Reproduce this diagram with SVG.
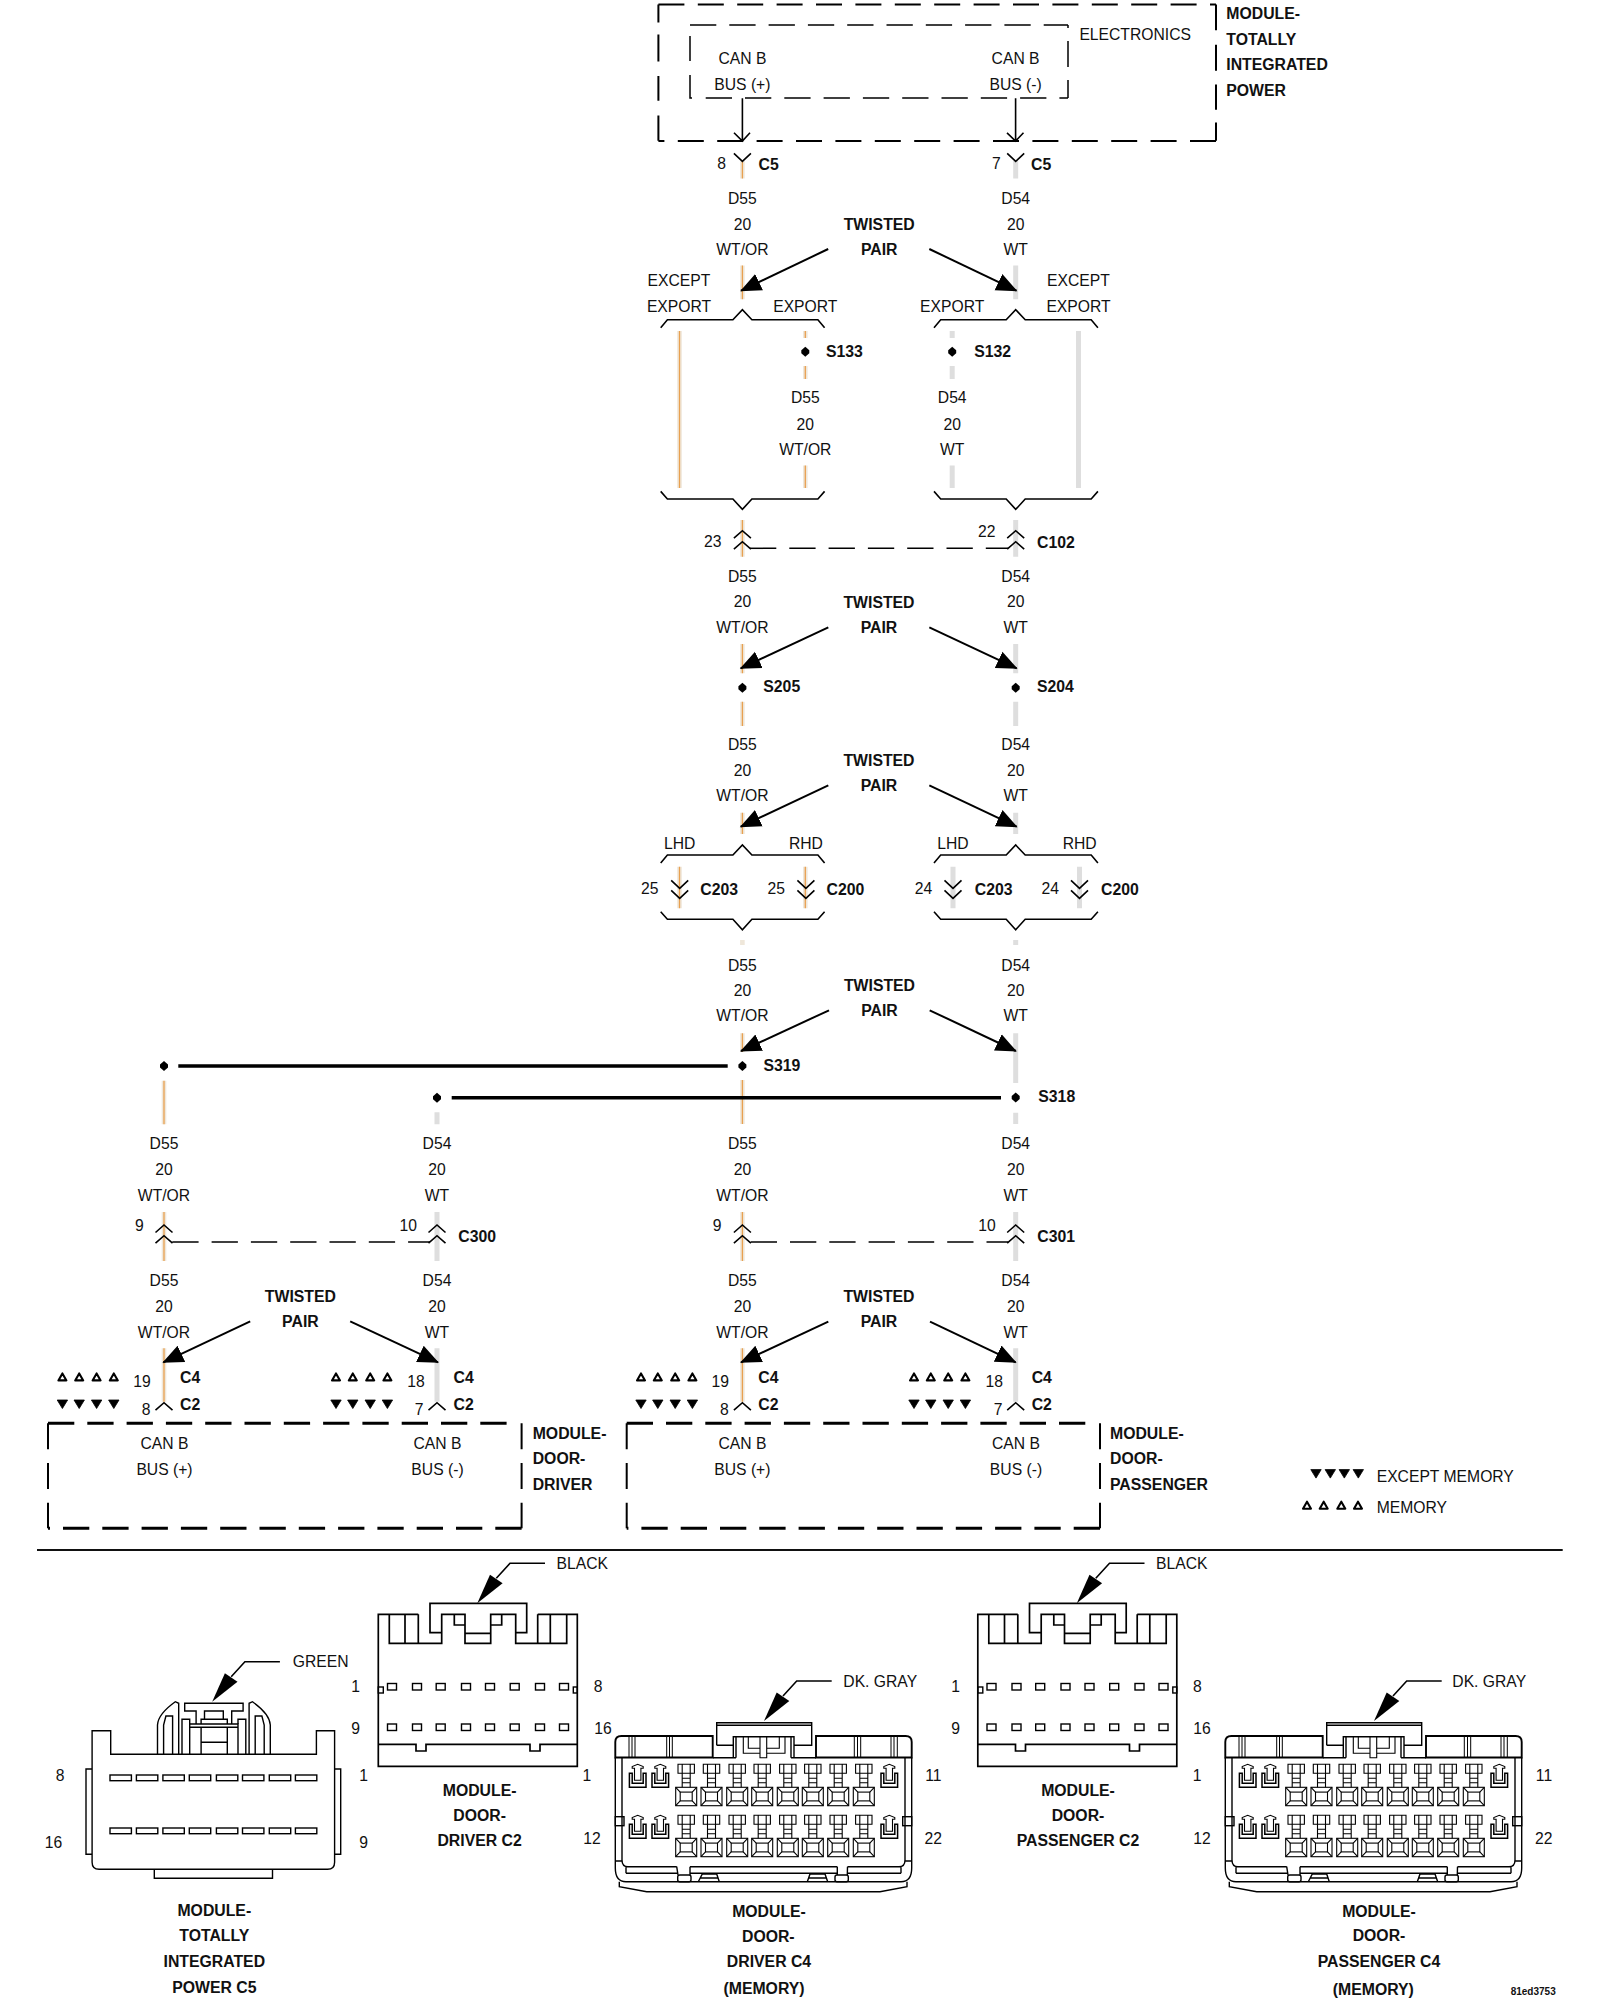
<svg xmlns="http://www.w3.org/2000/svg" width="1600" height="2000" viewBox="0 0 1600 2000">
<style>
text{font-family:"Liberation Sans",Arial,sans-serif;font-size:15.7px;fill:#111;transform:translateY(-1px)}
.b{font-weight:bold;font-size:15.8px}
.m{text-anchor:middle}
.ln{fill:none;stroke:#000;stroke-width:1.6}
.cn{fill:none;stroke:#000;stroke-width:1.4}
.pn{fill:none;stroke:#000;stroke-width:1.1}
.d2{fill:none;stroke:#000;stroke-width:2;stroke-dasharray:26 13.4}
.d1{fill:none;stroke:#000;stroke-width:1.5;stroke-dasharray:26.3 13}
.d3{fill:none;stroke:#000;stroke-width:3;stroke-dasharray:26.3 13}
.dv{fill:none;stroke:#000;stroke-width:2;stroke-dasharray:26 13.7}
.pale{fill:none;stroke:#efe7da;stroke-width:4.6}
.or{fill:none;stroke:#e8a050;stroke-width:1.3}
.wt{fill:none;stroke:#dedede;stroke-width:5}
.arr{fill:none;stroke:#000;stroke-width:2;marker-end:url(#head)}
.bar{fill:none;stroke:#000;stroke-width:3.5}
</style>
<defs>
<marker id="head" markerUnits="userSpaceOnUse" markerWidth="22" markerHeight="20" viewBox="0 0 22 20" refX="20" refY="10" orient="auto"><path d="M0,1 L21,10 L0,19 Z" fill="#000"/></marker>
<path id="dia" d="M0,-5 L4,-1.5 V1.5 L0,5 L-4,1.5 V-1.5 Z" fill="#000"/>
<path id="tw" d="M0,-3.6 L4,3.4 H-4 Z" fill="#fff" stroke="#000" stroke-width="2.1" stroke-linejoin="round"/>
<path id="tb" d="M-5.2,-4 H5.2 L0,4.5 Z" fill="#000" stroke="#000" stroke-width=".8" stroke-linejoin="round"/>
<path id="up" d="M-8.5,7.5 L0,0 L8.5,7.5" class="ln"/>
<path id="down" d="M-8.5,-8 L0,0 L8.5,-8" class="ln"/>
<path id="bt" d="M-81.7,18 L-75,10 H-9.5 L0,0 L9.5,10 H75.5 L82.2,18" class="ln"/>
<path id="bb" d="M-81.7,0 L-75,7.6 H-9.5 L0,18 L9.5,7.6 H75.5 L82.2,0" class="ln"/>
<g id="lead"><path d="M0,0 L12.7,-28.5 L25.3,-20 Z" fill="#000"/><path d="M19,-25 L32.7,-40 H67.7" class="ln"/></g>
<g id="tri4w"><use href="#tw" x="0"/><use href="#tw" x="16.8"/><use href="#tw" x="34.2"/><use href="#tw" x="51.4"/></g>
<g id="tri4b"><use href="#tb" x="0"/><use href="#tb" x="16.8"/><use href="#tb" x="34.2"/><use href="#tb" x="51.4"/></g>
<g id="pin" class="pn"><path d="M-8.2,0 H8.2 V9 H-8.2 Z M-4,0 V23 M4,0 V23 M-4,14 H4 M-4,18.5 H4"/><rect x="-10.5" y="23" width="21" height="18.4"/><rect x="-6" y="27.8" width="12" height="8.8"/><path d="M-10.5,23 L-6,27.8 M10.5,23 L6,27.8 M-10.5,41.4 L-6,36.6 M10.5,41.4 L6,36.6"/></g>
<g id="clip" class="pn"><path d="M-3.2,9 V4 H-5.5 V2.2 L0,0 L5.5,2.2 V4 H3.2 V9 M-3.2,9 V16 H3.2 V9"/><path d="M-8.3,9 V23 H8.3 V9 H5.5 V19 H-5.5 V9 Z" stroke-width="1.5"/></g>
<g id="pinrow"><use href="#clip" x="637.7"/><use href="#clip" x="660.3"/><use href="#pin" x="686.2"/><use href="#pin" x="711.5"/><use href="#pin" x="737.2"/><use href="#pin" x="762.2"/><use href="#pin" x="787.8"/><use href="#pin" x="812.8"/><use href="#pin" x="838.2"/><use href="#pin" x="863.8"/><use href="#clip" x="889.3"/></g>
<g id="c4shape" class="cn">
<path d="M615.3,1757.5 V1742 Q615.3,1736 621.3,1736 H712.7 V1757.5 Z M816,1757.5 V1736 H905.7 Q911.7,1736 911.7,1742 V1757.5 Z" stroke-width="1.9"/>
<path stroke-width="1" d="M629,1736V1757 M632,1736V1757 M635,1736V1757 M666.7,1736V1757 M669.5,1736V1757 M672.3,1736V1757 M854.3,1736V1757 M857.5,1736V1757 M860.7,1736V1757 M891,1736V1757 M894,1736V1757 M897.3,1736V1757"/>
<path d="M716.7,1745.3 V1722.7 H811.7 V1745.3 H794 M716.7,1725.2 H811.7 M716.7,1745.3 H733.3 M733.3,1757.7 V1736.7 H794 V1757.7 M736,1757.7 V1737 M791,1757.7 V1737 M713,1757.7 H736 M791,1757.7 H816"/>
<path stroke-width="1.1" d="M743.3,1736.7 V1753.3 H760 V1757.7 H766.7 V1753.3 H785 V1736.7 M748.3,1736.7 V1748.3 H760 V1736.7 M766.7,1736.7 V1748.3 H779.3 V1736.7 M760,1748.3 V1753.3 M766.7,1748.3 V1753.3"/>
<path d="M615.3,1757.5 V1868 Q615.3,1881.7 626,1881.7 H901 Q911.7,1881.7 911.7,1868 V1757.5 M622,1757.5 V1860 Q622,1866.7 628,1866.7 H676.7 M905,1757.5 V1860 Q905,1866.7 899,1866.7 H847.5 M615.3,1861 H622 M905,1861 H911.7 M626,1866.7 V1873.3 M901,1866.7 V1873.3 M626,1873.3 H678 M690,1873.3 H837.3 M847.3,1873.3 H901 M690,1866.7 H837.3 M690,1866.7 V1875 M837.3,1866.7 V1875 M676.7,1866.7 L678,1875 M847.5,1866.7 L847.3,1875"/>
<rect x="677.7" y="1875" width="13.3" height="6.7" rx="2"/><rect x="835" y="1875" width="13.3" height="6.7" rx="2"/>
<path d="M698.3,1881.7 L702.3,1874 H716.7 L719.3,1881.7 M700.5,1878 H717.8 M807.3,1881.7 L810,1874 H825 L827.7,1881.7 M808.6,1878 H826.4 M619.3,1881.7 V1886.7 L646.7,1891.7 H880 L907,1886.7 V1881.7"/>
<rect x="615.3" y="1816.7" width="8.7" height="9"/><rect x="902.7" y="1816.7" width="9" height="9"/>
<use href="#pinrow" y="1764.3"/><use href="#pinrow" y="1815.3"/>
</g>
<g id="c2shape" class="cn">
<path d="M418.3,1614.3 H378.3 V1766.3 H577.3 V1614.3 H537.7" stroke-width="1.7"/>
<path d="M389.3,1614.3 V1643.3 H441.7 V1614.3 H465 V1643.3 H490.7 V1614.3 H515.7 V1643.3 H566.7 V1614.3 M405,1614.3 V1643.3 M418.3,1614.3 V1643.3 M537.7,1614.3 V1643.3 M550.3,1614.3 V1643.3 M454.3,1614.3 V1625 H465 M490.7,1625 H501.7 V1614.3 M465,1633.3 H490.7 M441.7,1632.7 H430 V1603.3 H526.7 V1632.7 H515.7 M378.3,1744.3 H416 V1751 H426 V1744.3 H530 V1751 H540 V1744.3 H577.3" stroke-width="1.7"/>
<rect x="387.5" y="1683.5" width="9" height="6.5"/><rect x="412.5" y="1683.5" width="9" height="6.5"/><rect x="436.2" y="1683.5" width="9" height="6.5"/><rect x="461.5" y="1683.5" width="9" height="6.5"/><rect x="485.5" y="1683.5" width="9" height="6.5"/><rect x="510.2" y="1683.5" width="9" height="6.5"/><rect x="535.5" y="1683.5" width="9" height="6.5"/><rect x="559.5" y="1683.5" width="9" height="6.5"/>
<rect x="387.5" y="1724" width="9" height="6.5"/><rect x="412.5" y="1724" width="9" height="6.5"/><rect x="436.2" y="1724" width="9" height="6.5"/><rect x="461.5" y="1724" width="9" height="6.5"/><rect x="485.5" y="1724" width="9" height="6.5"/><rect x="510.2" y="1724" width="9" height="6.5"/><rect x="535.5" y="1724" width="9" height="6.5"/><rect x="559.5" y="1724" width="9" height="6.5"/>
<rect x="378.3" y="1687" width="5" height="6"/><rect x="573.3" y="1687" width="4" height="6"/>
</g>
</defs>
<rect width="1600" height="2000" fill="#fff"/>

<g id="connectors">
<path class="pale" d="M742.4,161V178.6M742.4,265.5V299.3M742.4,520V556.7M742.4,644V673.3M742.4,701.7V726M742.4,812.7V834M742.4,940V945M742.4,1033.3V1052M742.4,1080V1124M742.4,1212V1261M742.4,1348.3V1401.7M679.5,331V488M679.5,866.7V908.3M805.3,331V338M805.3,366V379M805.3,465.5V488M805.3,866.7V908.3M164,1080.7V1124.3M164,1212V1261M164,1348.3V1401.7"/>
<path class="or" d="M742.4,161V178.6M742.4,265.5V299.3M742.4,520V556.7M742.4,644V673.3M742.4,701.7V726M742.4,812.7V834M742.4,1033.3V1052M742.4,1080V1124M742.4,1212V1261M742.4,1348.3V1401.7M679.5,331V488M679.5,866.7V908.3M805.3,331V338M805.3,366V379M805.3,465.5V488M805.3,866.7V908.3M164,1080.7V1124.3M164,1212V1261M164,1348.3V1401.7"/>
<path class="wt" d="M1015.7,161V178.6M1015.7,265.5V299.3M1015.7,520V556.7M1015.7,644V673.3M1015.7,701.7V726M1015.7,812.7V834M1015.7,940V945M1015.7,1033.3V1083M1015.7,1112.7V1124M1015.7,1212V1261M1015.7,1348.3V1401.7M952.2,331V338M952.2,366V379M952.2,465.5V488M953,866.7V908.3M1078.5,331V488M1079.5,866.7V908.3M437,1112.3V1124.3M437,1212V1261M437,1348.3V1401.7"/>
<path class="bar" d="M178.3,1066H727.7M451.7,1097.7H1001"/>
<path class="arr" d="M828.2,249L741,290.7"/><path class="arr" d="M929.3,249L1016.5,290.7"/>
<path class="arr" d="M828.3,627.3L740.7,668.3"/><path class="arr" d="M929.3,627.3L1016.7,668.3"/>
<path class="arr" d="M828.3,785.3L740.7,826.7"/><path class="arr" d="M929.3,785.3L1016.7,826.7"/>
<path class="arr" d="M829,1010.3L741,1051"/><path class="arr" d="M929.7,1010.3L1015.9,1051"/>
<path class="arr" d="M828.3,1321.7L741,1362.3"/><path class="arr" d="M930,1321.7L1015.7,1362.3"/>
<path class="arr" d="M250.2,1321.3L163.3,1362.3"/><path class="arr" d="M350.2,1321.3L438,1362.3"/>
<use href="#bt" x="742.4" y="309.7"/><use href="#bt" x="1015.7" y="309.7"/>
<use href="#bb" x="742.4" y="491.4"/><use href="#bb" x="1015.7" y="491.4"/>
<use href="#bt" x="742.4" y="845"/><use href="#bt" x="1015.7" y="845"/>
<use href="#bb" x="742.4" y="911.7"/><use href="#bb" x="1015.7" y="911.7"/>
<path class="d1" d="M750,548.3H1008"/><path class="d1" d="M172.3,1242H430"/><path class="d1" d="M750.7,1242H1008"/>
</g>

<g id="module-tipm">
<path class="d2" d="M658.4,4.5H1216"/><path class="d2" d="M1216,141H658.4"/>
<path fill="none" stroke="#000" stroke-width="2" d="M658.4,4.5V22.4M658.4,34.5V61.4M658.4,75.9V100.7M658.4,115.5V140.7M1216,4.5V30.3M1216,44.8V70.7M1216,84.5V109.7M1216,122.4V140.7"/>
<path class="d1" d="M690,25H1068"/><path class="d1" d="M705.7,98H1068"/>
<path fill="none" stroke="#000" stroke-width="1.5" d="M690,36V61M690,75V98H692M1068,25V28M1068,41V67M1068,80V98"/>
<path class="ln" d="M742.4,98.3V141M734,132.8L742.4,141L750,132.8M1015.6,98.3V141M1007,132.8L1015.6,141L1023.5,132.8"/>
<text x="1079.4" y="41.4">ELECTRONICS</text>
<text class="m" x="742.4" y="65">CAN B</text><text class="m" x="742.4" y="91">BUS (+)</text>
<text class="m" x="1015.6" y="65">CAN B</text><text class="m" x="1015.6" y="91">BUS (-)</text>
<text class="b" x="1226.3" y="20">MODULE-</text><text class="b" x="1226.3" y="45.9">TOTALLY</text><text class="b" x="1226.3" y="70.7">INTEGRATED</text><text class="b" x="1226.3" y="97.2">POWER</text>
</g>

<g id="connector-c5">
<use href="#down" x="742.4" y="161.4"/><use href="#down" x="1015.7" y="161.4"/>
<text class="m" x="721.7" y="170">8</text><text class="b" x="758.5" y="170.7">C5</text>
<text class="m" x="996.3" y="170">7</text><text class="b" x="1031" y="170.7">C5</text>
</g>

<g id="twisted-labels">
<text class="b m" x="879.2" y="231">TWISTED</text><text class="b m" x="879.2" y="256.2">PAIR</text>
<text class="b m" x="879" y="609">TWISTED</text><text class="b m" x="879" y="634">PAIR</text>
<text class="b m" x="879" y="766.7">TWISTED</text><text class="b m" x="879" y="791.7">PAIR</text>
<text class="b m" x="879.5" y="992">TWISTED</text><text class="b m" x="879.5" y="1016.7">PAIR</text>
<text class="b m" x="879" y="1303.3">TWISTED</text><text class="b m" x="879" y="1328.3">PAIR</text>
<text class="b m" x="300.4" y="1302.7">TWISTED</text><text class="b m" x="300.4" y="1327.7">PAIR</text>
</g>

<g id="wire-labels">
<text class="m" x="742.4" y="204.5">D55</text><text class="m" x="742.4" y="231">20</text><text class="m" x="742.4" y="256">WT/OR</text>
<text class="m" x="1015.7" y="204.5">D54</text><text class="m" x="1015.7" y="231">20</text><text class="m" x="1015.7" y="256">WT</text>
<text class="m" x="805.3" y="404">D55</text><text class="m" x="805.3" y="431">20</text><text class="m" x="805.3" y="456">WT/OR</text>
<text class="m" x="952.2" y="404">D54</text><text class="m" x="952.2" y="431">20</text><text class="m" x="952.2" y="456">WT</text>
<text class="m" x="742.4" y="582.7">D55</text><text class="m" x="742.4" y="608">20</text><text class="m" x="742.4" y="634">WT/OR</text>
<text class="m" x="1015.7" y="582.7">D54</text><text class="m" x="1015.7" y="608">20</text><text class="m" x="1015.7" y="634">WT</text>
<text class="m" x="742.4" y="750.7">D55</text><text class="m" x="742.4" y="776.7">20</text><text class="m" x="742.4" y="801.7">WT/OR</text>
<text class="m" x="1015.7" y="750.7">D54</text><text class="m" x="1015.7" y="776.7">20</text><text class="m" x="1015.7" y="801.7">WT</text>
<text class="m" x="742.4" y="971.7">D55</text><text class="m" x="742.4" y="996.7">20</text><text class="m" x="742.4" y="1022.3">WT/OR</text>
<text class="m" x="1015.7" y="971.7">D54</text><text class="m" x="1015.7" y="996.7">20</text><text class="m" x="1015.7" y="1022.3">WT</text>
<text class="m" x="164" y="1150">D55</text><text class="m" x="164" y="1176">20</text><text class="m" x="164" y="1202">WT/OR</text>
<text class="m" x="437" y="1150">D54</text><text class="m" x="437" y="1176">20</text><text class="m" x="437" y="1202">WT</text>
<text class="m" x="742.4" y="1150">D55</text><text class="m" x="742.4" y="1176">20</text><text class="m" x="742.4" y="1202">WT/OR</text>
<text class="m" x="1015.7" y="1150">D54</text><text class="m" x="1015.7" y="1176">20</text><text class="m" x="1015.7" y="1202">WT</text>
<text class="m" x="164" y="1286.7">D55</text><text class="m" x="164" y="1312.7">20</text><text class="m" x="164" y="1338.7">WT/OR</text>
<text class="m" x="437" y="1286.7">D54</text><text class="m" x="437" y="1312.7">20</text><text class="m" x="437" y="1338.7">WT</text>
<text class="m" x="742.4" y="1286.7">D55</text><text class="m" x="742.4" y="1312.7">20</text><text class="m" x="742.4" y="1338.7">WT/OR</text>
<text class="m" x="1015.7" y="1286.7">D54</text><text class="m" x="1015.7" y="1312.7">20</text><text class="m" x="1015.7" y="1338.7">WT</text>
</g>

<g id="export-options">
<text class="m" x="679" y="287.2">EXCEPT</text><text class="m" x="679" y="313">EXPORT</text>
<text class="m" x="805.3" y="313">EXPORT</text><text class="m" x="952.2" y="313">EXPORT</text>
<text class="m" x="1078.5" y="287.2">EXCEPT</text><text class="m" x="1078.5" y="313">EXPORT</text>
</g>

<g id="splices">
<use href="#dia" x="805.3" y="351.7"/><text class="b" x="826" y="357.6">S133</text>
<use href="#dia" x="952.2" y="351.7"/><text class="b" x="974.2" y="357.6">S132</text>
<use href="#dia" x="742.4" y="687.7"/><text class="b" x="763.3" y="693.3">S205</text>
<use href="#dia" x="1015.7" y="687.7"/><text class="b" x="1037" y="693.3">S204</text>
<use href="#dia" x="742.4" y="1066"/><text class="b" x="763.4" y="1071.7">S319</text>
<use href="#dia" x="1015.7" y="1097.5"/><text class="b" x="1038.3" y="1103.3">S318</text>
<use href="#dia" x="164" y="1066"/><use href="#dia" x="437" y="1097.7"/>
</g>

<g id="connector-c102">
<use href="#up" x="742.4" y="530.7"/><use href="#up" x="742.4" y="541.7"/><use href="#up" x="1015.7" y="530.7"/><use href="#up" x="1015.7" y="541.7"/>
<text class="m" x="712.7" y="548">23</text><text class="m" x="986.7" y="537.7">22</text><text class="b" x="1037" y="549.3">C102</text>
</g>

<g id="connector-c203-c200">
<use href="#down" x="679.7" y="888.3"/><use href="#down" x="679.7" y="898.3"/><use href="#down" x="805.9" y="888.3"/><use href="#down" x="805.9" y="898.3"/>
<use href="#down" x="953" y="888.3"/><use href="#down" x="953" y="898.3"/><use href="#down" x="1079.5" y="888.3"/><use href="#down" x="1079.5" y="898.3"/>
<text class="m" x="679.7" y="850">LHD</text><text class="m" x="805.9" y="850">RHD</text><text class="m" x="953" y="850">LHD</text><text class="m" x="1079.7" y="850">RHD</text>
<text class="m" x="649.7" y="895">25</text><text class="b" x="700.3" y="896">C203</text>
<text class="m" x="776.2" y="895">25</text><text class="b" x="826.6" y="896">C200</text>
<text class="m" x="923.4" y="895">24</text><text class="b" x="974.8" y="896">C203</text>
<text class="m" x="1050.3" y="895">24</text><text class="b" x="1101" y="896">C200</text>
</g>

<g id="connector-c300">
<use href="#up" x="164" y="1225"/><use href="#up" x="164" y="1235.7"/><use href="#up" x="437" y="1225"/><use href="#up" x="437" y="1235.7"/>
<text class="m" x="139.3" y="1231.7">9</text><text class="m" x="408.3" y="1231.7">10</text><text class="b" x="458.3" y="1242.7">C300</text>
</g>
<g id="connector-c301">
<use href="#up" x="742.4" y="1225"/><use href="#up" x="742.4" y="1235.7"/><use href="#up" x="1015.7" y="1225"/><use href="#up" x="1015.7" y="1235.7"/>
<text class="m" x="717" y="1231.7">9</text><text class="m" x="987" y="1231.7">10</text><text class="b" x="1037.3" y="1242.7">C301</text>
</g>

<g id="module-door-driver">
<use href="#tri4w" x="62.4" y="1377"/><use href="#tri4w" x="336" y="1377"/><use href="#tri4b" x="62.4" y="1404"/><use href="#tri4b" x="336" y="1404"/>
<use href="#up" x="164" y="1402.7"/><use href="#up" x="437" y="1402.7"/>
<text class="m" x="142" y="1388.3">19</text><text class="b" x="180" y="1384">C4</text><text class="m" x="146" y="1415.7">8</text><text class="b" x="180" y="1411">C2</text>
<text class="m" x="416" y="1388.3">18</text><text class="b" x="453.5" y="1384">C4</text><text class="m" x="419" y="1415.7">7</text><text class="b" x="453.5" y="1411">C2</text>
<path class="d3" d="M48,1423.3H508"/><path class="d3" d="M521.6,1528.3H48"/><path class="dv" d="M48,1423.3V1528.3"/><path class="dv" d="M521.6,1423.3V1528.3"/>
<text class="m" x="164.5" y="1450">CAN B</text><text class="m" x="164.5" y="1476">BUS (+)</text>
<text class="m" x="437.5" y="1450">CAN B</text><text class="m" x="437.5" y="1476">BUS (-)</text>
<text class="b" x="532.7" y="1440">MODULE-</text><text class="b" x="532.7" y="1465">DOOR-</text><text class="b" x="532.7" y="1490.7">DRIVER</text>
</g>

<g id="module-door-passenger">
<use href="#tri4w" x="641" y="1377"/><use href="#tri4w" x="914" y="1377"/><use href="#tri4b" x="641" y="1404"/><use href="#tri4b" x="914" y="1404"/>
<use href="#up" x="742.4" y="1402.7"/><use href="#up" x="1015.7" y="1402.7"/>
<text class="m" x="720.3" y="1388.3">19</text><text class="b" x="758.3" y="1384">C4</text><text class="m" x="724.3" y="1415.7">8</text><text class="b" x="758.3" y="1411">C2</text>
<text class="m" x="994.3" y="1388.3">18</text><text class="b" x="1031.7" y="1384">C4</text><text class="m" x="998" y="1415.7">7</text><text class="b" x="1031.7" y="1411">C2</text>
<path class="d3" d="M626.7,1423.3H1087"/><path class="d3" d="M1100,1528.3H626.7"/><path class="dv" d="M626.7,1423.3V1528.3"/><path class="dv" d="M1100,1423.3V1528.3"/>
<text class="m" x="742.4" y="1450">CAN B</text><text class="m" x="742.4" y="1476">BUS (+)</text>
<text class="m" x="1016" y="1450">CAN B</text><text class="m" x="1016" y="1476">BUS (-)</text>
<text class="b" x="1110" y="1440">MODULE-</text><text class="b" x="1110" y="1465">DOOR-</text><text class="b" x="1110" y="1490.7">PASSENGER</text>
</g>

<g id="legend">
<use href="#tb" x="1316" y="1473.6"/><use href="#tb" x="1330.3" y="1473.6"/><use href="#tb" x="1344.3" y="1473.6"/><use href="#tb" x="1358.3" y="1473.6"/>
<use href="#tw" x="1307" y="1505.3"/><use href="#tw" x="1323.7" y="1505.3"/><use href="#tw" x="1341.3" y="1505.3"/><use href="#tw" x="1358" y="1505.3"/>
<text x="1376.7" y="1482.7">EXCEPT MEMORY</text><text x="1376.7" y="1514.4">MEMORY</text>
</g>

<path id="separator" d="M37,1550H1562.7" fill="none" stroke="#111" stroke-width="2"/>

<g id="view-tipm-c5">
<g class="cn">
<path d="M92.1,1730.7 H110.7 V1754.3 H316.4 V1730.7 H334.6 V1862.3 Q334.6,1869.3 327.6,1869.3 H99.1 Q92.1,1869.3 92.1,1862.3 Z M92.1,1769 H86 V1854.3 H92.1 M334.6,1769 H340.7 V1854.3 H334.6 M154.3,1869.3 V1878.3 H272.5 V1869.3"/>
<rect x="110" y="1775" width="21.4" height="5.7"/><rect x="136.4" y="1775" width="21.4" height="5.7"/><rect x="162.9" y="1775" width="21.4" height="5.7"/><rect x="189.3" y="1775" width="21.4" height="5.7"/><rect x="216.4" y="1775" width="21.4" height="5.7"/><rect x="242.5" y="1775" width="21.4" height="5.7"/><rect x="269.3" y="1775" width="21.4" height="5.7"/><rect x="295.4" y="1775" width="21.4" height="5.7"/>
<rect x="110" y="1828" width="21.4" height="5.7"/><rect x="136.4" y="1828" width="21.4" height="5.7"/><rect x="162.9" y="1828" width="21.4" height="5.7"/><rect x="189.3" y="1828" width="21.4" height="5.7"/><rect x="216.4" y="1828" width="21.4" height="5.7"/><rect x="242.5" y="1828" width="21.4" height="5.7"/><rect x="269.3" y="1828" width="21.4" height="5.7"/><rect x="295.4" y="1828" width="21.4" height="5.7"/>
<path d="M157.5,1754.3 V1725 Q158,1714 175.3,1701.7 L178.7,1703.3 V1754.3 M163.6,1754.3 V1725 L165.9,1716 H172.6 V1754.3 M182,1754.3 V1719.3 H189.7 V1724 M270.3,1754.3 V1725 Q269.8,1714 252.5,1701.7 L249.1,1703.3 V1754.3 M264.2,1754.3 V1725 L261.9,1716 H255.2 V1754.3 M245.8,1754.3 V1719.3 H238 V1724"/>
<path d="M184.7,1703.3 H243.1 V1711 H231.7 V1724 H196.1 V1711 H184.7 Z M204.5,1719.3 V1711 H223.3 V1719.3 M201.1,1724 V1719.3 H227.3 V1724 M189.7,1724 H238 V1754.3 M189.7,1724 V1754.3 M189.7,1727.3 H238 M201.1,1727.3 V1754.3 M227.3,1727.3 V1754.3 M201.1,1742.3 H227.3"/>
</g>
<use href="#lead" x="212.2" y="1701.7"/>
<text x="292.8" y="1668.3">GREEN</text>
<text class="m" x="60" y="1781.7">8</text><text class="m" x="53.6" y="1849.3">16</text><text class="m" x="363.6" y="1781.7">1</text><text class="m" x="363.6" y="1849.3">9</text>
<text class="b m" x="214.3" y="1917.3">MODULE-</text><text class="b m" x="214.3" y="1942.3">TOTALLY</text><text class="b m" x="214.3" y="1968.3">INTEGRATED</text><text class="b m" x="214.3" y="1994.3">POWER C5</text>
</g>

<g id="view-driver-c2">
<use href="#c2shape"/>
<use href="#lead" x="477.3" y="1603.3"/>
<text x="556.5" y="1570">BLACK</text>
<text class="m" x="355.7" y="1693">1</text><text class="m" x="355.7" y="1735">9</text><text class="m" x="598.2" y="1693">8</text><text class="m" x="602.9" y="1735">16</text>
<text class="b m" x="479.6" y="1797.3">MODULE-</text><text class="b m" x="479.6" y="1822.3">DOOR-</text><text class="b m" x="479.6" y="1847.3">DRIVER C2</text>
</g>

<g id="view-passenger-c2">
<use href="#c2shape" x="599.5"/>
<use href="#lead" x="1076.8" y="1603.3"/>
<text x="1156" y="1570">BLACK</text>
<text class="m" x="955.7" y="1693">1</text><text class="m" x="955.7" y="1735">9</text><text class="m" x="1197.3" y="1693">8</text><text class="m" x="1202" y="1735">16</text>
<text class="b m" x="1078" y="1797.3">MODULE-</text><text class="b m" x="1078" y="1822.3">DOOR-</text><text class="b m" x="1078" y="1847.3">PASSENGER C2</text>
</g>

<g id="view-driver-c4">
<use href="#c4shape"/>
<use href="#lead" x="764" y="1721"/>
<text x="843.3" y="1688.3">DK. GRAY</text>
<text class="m" x="586.8" y="1781.7">1</text><text class="m" x="592" y="1845">12</text><text class="m" x="933.3" y="1781.7">11</text><text class="m" x="933.3" y="1845">22</text>
<text class="b m" x="769" y="1918.3">MODULE-</text><text class="b m" x="768.3" y="1942.7">DOOR-</text><text class="b m" x="769" y="1968.3">DRIVER C4</text><text class="b m" x="764" y="1995">(MEMORY)</text>
</g>

<g id="view-passenger-c4">
<use href="#c4shape" x="610"/>
<use href="#lead" x="1374" y="1721"/>
<text x="1452.3" y="1688">DK. GRAY</text>
<text class="m" x="1197" y="1782">1</text><text class="m" x="1202" y="1845.3">12</text><text class="m" x="1544" y="1782">11</text><text class="m" x="1543.7" y="1845.3">22</text>
<text class="b m" x="1379" y="1918">MODULE-</text><text class="b m" x="1379" y="1942">DOOR-</text><text class="b m" x="1379" y="1968.2">PASSENGER C4</text><text class="b m" x="1373.3" y="1995.5">(MEMORY)</text>
<text class="b" x="1510.7" y="1996" style="font-size:10px">81ed3753</text>
</g>
</svg>
